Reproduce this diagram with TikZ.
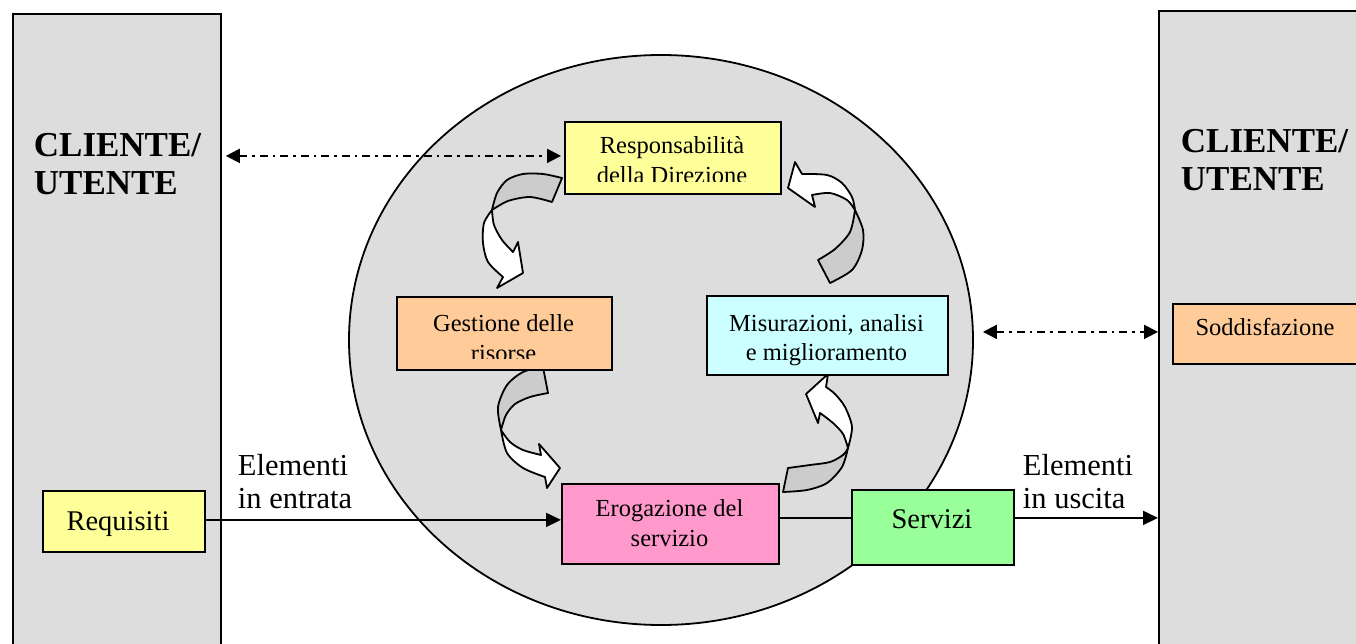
\documentclass[tikz,border=0pt]{standalone}
\usepackage{fontspec}
\setmainfont{Liberation Serif}
\usetikzlibrary{arrows.meta,shapes.geometric}
\definecolor{panel}{HTML}{DDDDDD}
\definecolor{band}{HTML}{CCCCCC}
\definecolor{paleyellow}{HTML}{FFFF99}
\definecolor{peach}{HTML}{FFCC99}
\definecolor{palecyan}{HTML}{CCFFFF}
\definecolor{boxpink}{HTML}{FF99CC}
\definecolor{palegreen}{HTML}{99FF99}
\tikzset{
  panelbox/.style={draw, fill=panel, anchor=north west, inner sep=0pt},
  stagebox/.style={draw, anchor=north west, inner sep=0pt},
  boxtext/.style={font=\fontsize{24.5}{29}\selectfont, anchor=base, inner sep=0pt},
  bigtext/.style={font=\fontsize{28.5}{33}\selectfont, anchor=base, inner sep=0pt},
  labeltext/.style={font=\fontsize{30.5}{34}\selectfont, anchor=base west, inner sep=0pt},
  titletext/.style={font=\bfseries\fontsize{35}{38}\selectfont, anchor=base west, inner sep=0pt},
  solidhead/.style={-{Triangle[length=15pt,width=14pt]}},
  ddline/.style={line width=2pt, dash pattern=on 8pt off 5pt on 2.5pt off 5pt,
    {Triangle[length=14pt,width=14pt]}-{Triangle[length=14pt,width=14pt]}},
  backband/.style={draw, fill=band, line join=round},
  frontband/.style={draw, fill=white, line join=round},
}
\begin{document}
\begin{tikzpicture}[x=1pt, y=-1pt, line width=1.8pt]
\useasboundingbox (0,0) rectangle (1356,644);
\clip (0,0) rectangle (1356,644);

% customer panels on both sides
\node[panelbox, minimum width=208pt, minimum height=650pt] (cliL) at (12,13) {};
\node[panelbox, minimum width=220pt, minimum height=650pt] (cliR) at (1158,10) {};
\node[titletext] (cliLt1) at (33,157) {CLIENTE/};
\node[titletext] (cliLt2) at (33,195) {UTENTE};
\node[titletext] (cliRt1) at (1180,153) {CLIENTE/};
\node[titletext] (cliRt2) at (1180,191) {UTENTE};

% process ring
\node[draw, fill=panel, ellipse, minimum width=624pt, minimum height=570pt, inner sep=0pt] (ring) at (661,340) {};

% curved arrows: top-left (Direzione -> Risorse)
\path[backband] plot[smooth] coordinates {(562,178) (543,174) (523,174) (507,180) (497,193) (492,210)}
  -- plot[smooth] coordinates {(492,210) (508,201) (530,197) (552,202)} -- cycle;
\path[frontband] plot[smooth] coordinates {(492,210) (484,223) (483,243) (488,262) (503,277)}
  -- (497,288) -- (523,273) -- (518,242)
  -- plot[smooth] coordinates {(513,252) (502,240) (494,225) (492,210)} -- cycle;

% top-right (Misurazioni -> Direzione)
\path[backband] plot[smooth] coordinates {(855,210) (863,230) (862,250) (852,270) (830,283)}
  -- plot[smooth] coordinates {(818,260) (835,249) (850,232) (855,210)} -- cycle;
\path[frontband] plot[smooth] coordinates {(855,210) (852,197) (842,183) (827,175) (802,174)}
  -- (795,162) -- (788,188) -- (815,207)
  -- plot[smooth] coordinates {(812,195) (830,193) (847,200) (855,210)} -- cycle;

% middle-left (Risorse -> Erogazione)
\path[backband] plot[smooth] coordinates {(543,367) (523,372) (507,385) (498,407) (501,430)}
  -- plot[smooth] coordinates {(501,430) (506,415) (515,404) (530,397) (548,393)} -- cycle;
\path[frontband] plot[smooth] coordinates {(501,430) (507,453) (523,468) (545,477)}
  -- (547,488) -- (560,468) -- (539,444)
  -- plot[smooth] coordinates {(541,455) (523,450) (510,442) (501,430)} -- cycle;

% middle-right (Erogazione -> Misurazioni)
\path[backband] plot[smooth] coordinates {(788,468) (810,465) (830,462) (843,455) (848,448)}
  -- plot[smooth] coordinates {(848,448) (842,467) (827,483) (807,490) (783,492)} -- cycle;
\path[frontband] plot[smooth] coordinates {(848,448) (852,427) (845,407) (835,394) (826,387)}
  -- (828,374) -- (806,394) -- (818,423)
  -- plot[smooth] coordinates {(820,413) (833,423) (843,434) (848,448)} -- cycle;

% process stages
\node[stagebox, fill=paleyellow, minimum width=216pt, minimum height=72pt] (resp) at (564,121) {};
\begin{scope}
  \clip (564,121) rectangle (780,182);
  \node[boxtext] (respT1) at (672,154) {Responsabilità};
  \node[boxtext] (respT2) at (672,184) {della Direzione};
\end{scope}

\node[stagebox, fill=peach, minimum width=215pt, minimum height=73pt] (ris) at (396,296) {};
\begin{scope}
  \clip (396,296) rectangle (611,358);
  \node[boxtext] (risT1) at (503.5,331) {Gestione delle};
  \node[boxtext] (risT2) at (503.5,361) {risorse};
\end{scope}

\node[stagebox, fill=palecyan, minimum width=241pt, minimum height=79pt] (mis) at (706,295) {};
\node[boxtext] (misT1) at (826.5,331) {Misurazioni, analisi};
\node[boxtext] (misT2) at (826.5,360) {e miglioramento};

\node[stagebox, fill=boxpink, minimum width=217pt, minimum height=80pt] (erog) at (561,483) {};
\node[boxtext] (erogT1) at (669.5,516) {Erogazione del};
\node[boxtext] (erogT2) at (669.5,546) {servizio};

\node[stagebox, fill=palegreen, minimum width=162pt, minimum height=75pt] (serv) at (851,489) {};
\node[bigtext] (servT) at (932,528) {Servizi};

\node[stagebox, fill=paleyellow, minimum width=162pt, minimum height=61pt] (req) at (42,490) {};
\node[bigtext] (reqT) at (118,530) {Requisiti};

\node[stagebox, fill=peach, minimum width=200pt, minimum height=60pt] (sod) at (1172,303) {};
\node[boxtext] (sodT) at (1265,335.5) {Soddisfazione};

% flow labels
\node[labeltext] (inT1) at (237,475) {Elementi};
\node[labeltext] (inT2) at (237,508) {in entrata};
\node[labeltext] (outT1) at (1022,475) {Elementi};
\node[labeltext] (outT2) at (1022,508) {in uscita};

% connectors
\draw[solidhead] ([yshift=1.5pt]req.east) -- ([yshift=1.5pt]req.east -| erog.west);
\draw ([yshift=6pt]erog.east) -- ([yshift=6pt]erog.east -| serv.west);
\draw[solidhead] ([yshift=9.5pt]serv.east) -- ([yshift=9.5pt]serv.east -| cliR.west);
\draw[ddline, shorten <=4pt, shorten >=3pt] ([yshift=2pt]resp.west -| cliL.east) -- ([yshift=2pt]resp.west);
\draw[ddline, shorten <=9pt] ([yshift=2pt]sod.west -| ring.east) -- ([yshift=2pt]sod.west -| cliR.west);
\end{tikzpicture}
\end{document}
